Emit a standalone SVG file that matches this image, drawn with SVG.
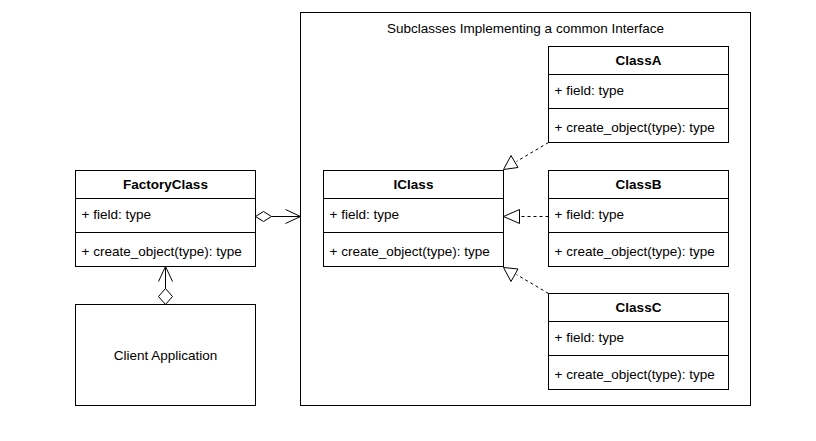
<svg xmlns="http://www.w3.org/2000/svg" width="816" height="441" viewBox="0 0 816 441">
<style>
.box{fill:#fff;stroke:#000;stroke-width:1}
.sep{stroke:#000;stroke-width:1}
text{font-family:"Liberation Sans",Arial,Helvetica,sans-serif;font-size:13.5px;fill:#000}
.t{font-weight:bold;text-anchor:middle}
.c{text-anchor:middle}
.ln{fill:none;stroke:#000;stroke-width:1}
.dash{fill:none;stroke:#000;stroke-width:1;stroke-dasharray:3,3}
.tri{fill:#fff;stroke:#000;stroke-width:1}
</style>
<rect width="816" height="441" fill="#fff"/>
<g id="container">
<rect class="box" x="300.5" y="12.5" width="450" height="393"/>
<text class="c" x="525.5" y="33">Subclasses Implementing a common Interface</text>
</g>
<g id="FactoryClass">
<rect class="box" x="75.5" y="170.5" width="180" height="96"/>
<line class="sep" x1="75.5" y1="198.5" x2="255.5" y2="198.5"/>
<line class="sep" x1="75.5" y1="232.5" x2="255.5" y2="232.5"/>
<text class="t" x="165.5" y="189">FactoryClass</text>
<text x="81.5" y="218.5">+ field: type</text>
<text x="81.5" y="256">+ create_object(type): type</text>
</g>
<g id="ClientApplication">
<rect class="box" x="75.5" y="304.5" width="180" height="101"/>
<text class="c" x="165.5" y="359.5">Client Application</text>
</g>
<g id="IClass">
<rect class="box" x="323.5" y="170.5" width="180" height="96"/>
<line class="sep" x1="323.5" y1="198.5" x2="503.5" y2="198.5"/>
<line class="sep" x1="323.5" y1="232.5" x2="503.5" y2="232.5"/>
<text class="t" x="413.5" y="189">IClass</text>
<text x="329.5" y="218.5">+ field: type</text>
<text x="329.5" y="256">+ create_object(type): type</text>
</g>
<g id="ClassA">
<rect class="box" x="548.5" y="46.5" width="180" height="96"/>
<line class="sep" x1="548.5" y1="74.5" x2="728.5" y2="74.5"/>
<line class="sep" x1="548.5" y1="108.5" x2="728.5" y2="108.5"/>
<text class="t" x="638.5" y="65">ClassA</text>
<text x="554.5" y="94.5">+ field: type</text>
<text x="554.5" y="132">+ create_object(type): type</text>
</g>
<g id="ClassB">
<rect class="box" x="548.5" y="170.5" width="180" height="96"/>
<line class="sep" x1="548.5" y1="198.5" x2="728.5" y2="198.5"/>
<line class="sep" x1="548.5" y1="232.5" x2="728.5" y2="232.5"/>
<text class="t" x="638.5" y="189">ClassB</text>
<text x="554.5" y="218.5">+ field: type</text>
<text x="554.5" y="256">+ create_object(type): type</text>
</g>
<g id="ClassC">
<rect class="box" x="548.5" y="293.5" width="180" height="96"/>
<line class="sep" x1="548.5" y1="321.5" x2="728.5" y2="321.5"/>
<line class="sep" x1="548.5" y1="355.5" x2="728.5" y2="355.5"/>
<text class="t" x="638.5" y="312">ClassC</text>
<text x="554.5" y="341.5">+ field: type</text>
<text x="554.5" y="379">+ create_object(type): type</text>
</g>
<g id="connectors">
<path class="ln" d="M271.5,216.5 L300.5,216.5"/>
<path class="tri" d="M255.5,216.5 L263.5,211.5 L271.5,216.5 L263.5,221.5 Z"/>
<path class="ln" d="M285.5,209.5 L300.5,216.5 L285.5,223.5"/>
<path class="ln" d="M165.5,289.5 L165.5,266.5"/>
<path class="tri" d="M165.5,304.5 L158.5,296.5 L165.5,288.5 L172.5,296.5 Z"/>
<path class="ln" d="M158.5,281.5 L165.5,266.5 L172.5,281.5"/>
<path class="dash" d="M548.5,142.5 L516.5,161.5"/>
<path class="tri" d="M503.5,169.5 L511,155.5 L518,167.5 Z"/>
<path class="dash" d="M548.5,216.5 L519.5,216.5"/>
<path class="tri" d="M503.5,216.5 L519.5,209.5 L519.5,223.5 Z"/>
<path class="dash" d="M548.5,293.5 L516.5,274.5"/>
<path class="tri" d="M503.5,267.5 L518,269 L511,281.5 Z"/>
</g>
</svg>
